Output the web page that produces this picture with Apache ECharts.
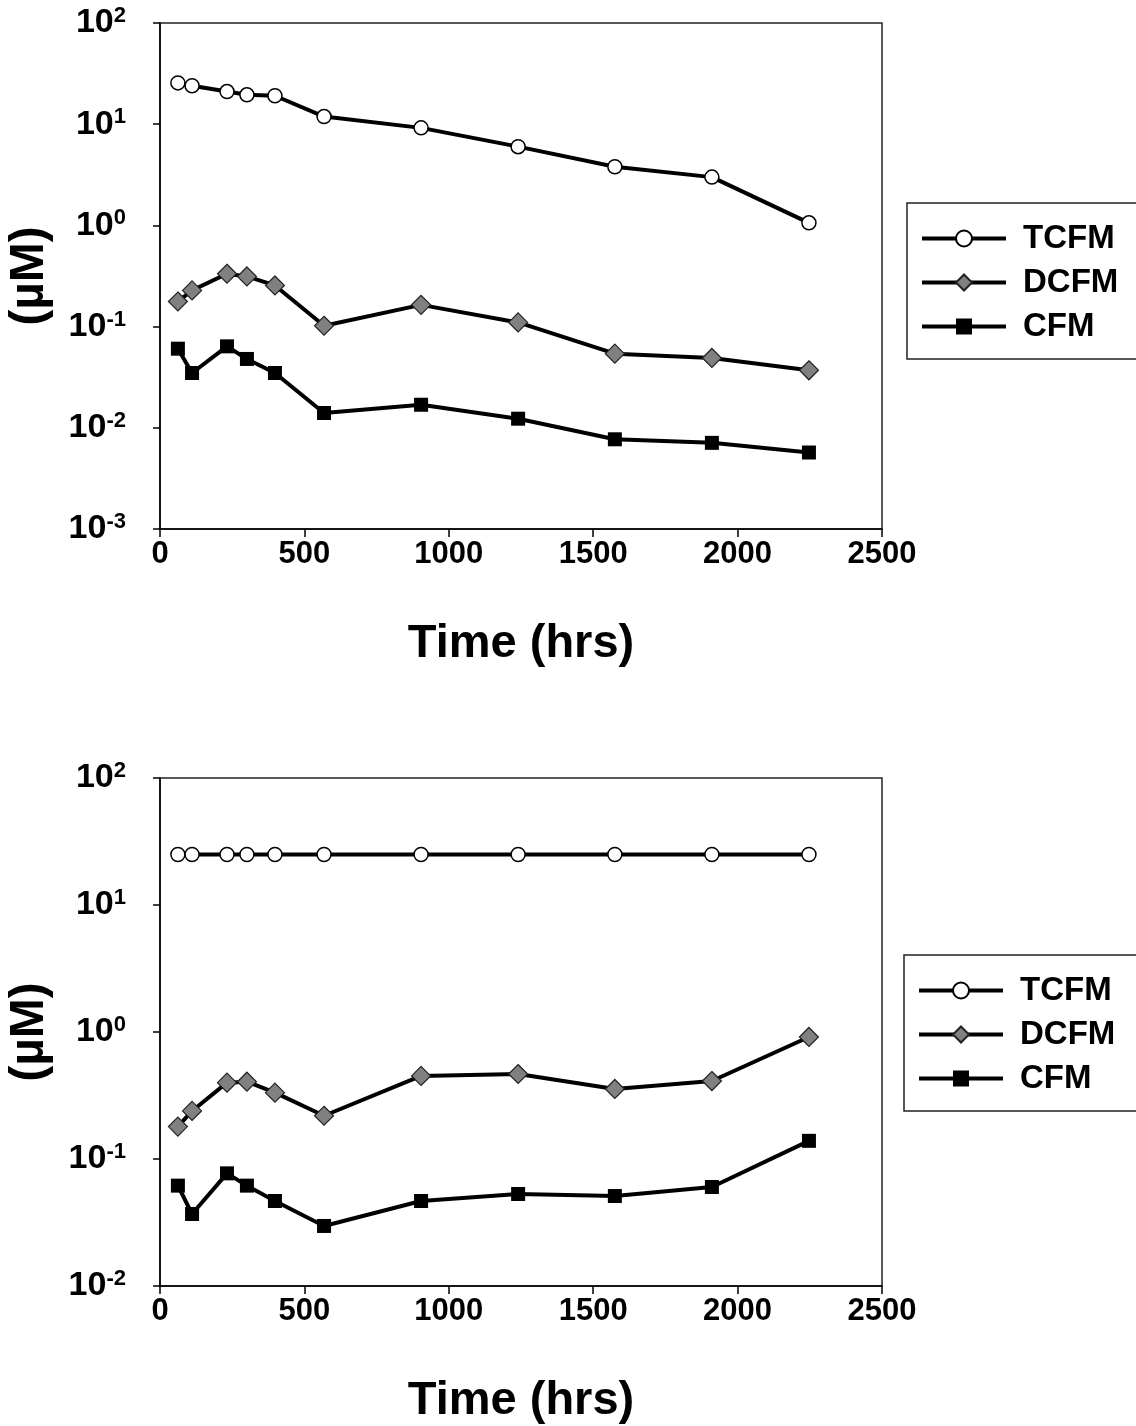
<!DOCTYPE html>
<html>
<head>
<meta charset="utf-8">
<script src="https://cdn.jsdelivr.net/npm/echarts@6/dist/echarts.min.js"></script>
<style>
  html, body { margin: 0; padding: 0; background: #fff; }
  #chart { width: 1136px; height: 1426px; }
</style>
</head>
<body>
<div id="chart"></div>
<script>
// sampling times (hrs), same for both panels
var timeHrs = [62, 111, 232, 301, 398, 568, 904, 1240, 1575, 1911, 2247]

// top panel (µM)
var tcfmTop = [25.6, 24.0, 21.0, 19.5, 19.1, 11.9, 9.2, 6.0, 3.8, 3.0, 1.06]
var dcfmTop = [0.177, 0.228, 0.333, 0.313, 0.255, 0.102, 0.164, 0.110, 0.054, 0.049, 0.037]
var cfmTop = [0.0605, 0.0348, 0.0638, 0.0479, 0.0348, 0.0140, 0.0169, 0.0123, 0.0077, 0.0071, 0.0057]

// bottom panel (µM)
var tcfmBottom = [25, 25, 25, 25, 25, 25, 25, 25, 25, 25, 25]
var dcfmBottom = [0.180, 0.239, 0.399, 0.406, 0.333, 0.219, 0.451, 0.467, 0.356, 0.411, 0.914]
var cfmBottom = [0.0617, 0.0369, 0.0771, 0.0617, 0.0467, 0.0297, 0.0467, 0.053, 0.0511, 0.0602, 0.139]

var seriesNames = ['TCFM', 'DCFM', 'CFM']
var xTicks = [0, 500, 1000, 1500, 2000, 2500]

var font = '"Liberation Sans", Arial, sans-serif'

// pair times with values
function pairs(vals) {
  var out = []
  for (var i = 0; i < timeHrs.length; i++) {
    out.push([timeHrs[i], vals[i]])
  }
  return out
}

// marker look per series
var markerStyle = {
  TCFM: { symbol: 'circle', symbolSize: 14, itemStyle: { color: '#fff', borderColor: '#000', borderWidth: 1.5 } },
  DCFM: { symbol: 'diamond', symbolSize: 19, itemStyle: { color: '#808080', borderColor: '#222', borderWidth: 1.2 } },
  CFM: { symbol: 'rect', symbolSize: 14, itemStyle: { color: '#000', borderColor: '#000', borderWidth: 0 } }
}

function makeSeries(name, vals, idx) {
  var m = markerStyle[name]
  return {
    name: name,
    type: 'line',
    xAxisIndex: idx,
    yAxisIndex: idx,
    data: pairs(vals),
    symbol: m.symbol,
    symbolSize: m.symbolSize,
    itemStyle: m.itemStyle,
    lineStyle: { color: '#000', width: 4 },
    animation: false,
    z: name == 'TCFM' ? 3 : 2
  }
}

function xAxis(idx) {
  return {
    type: 'value',
    gridIndex: idx,
    min: xTicks[0],
    max: xTicks[xTicks.length - 1],
    interval: 500,
    name: 'Time (hrs)',
    nameLocation: 'middle',
    nameGap: 92,
    nameTextStyle: { fontFamily: font, fontWeight: 'bold', fontSize: 47, color: '#000' },
    axisLine: { lineStyle: { color: '#000', width: 1.5 } },
    axisTick: { inside: false, length: 8, lineStyle: { color: '#000', width: 1.5 } },
    axisLabel: {
      margin: 10,
      fontFamily: font,
      fontWeight: 'bold',
      fontSize: 31,
      color: '#000',
      formatter: function(v) { return String(v) }
    },
    splitLine: { show: false }
  }
}

function yAxis(idx, minVal) {
  return {
    type: 'log',
    logBase: 10,
    gridIndex: idx,
    min: minVal,
    max: 100,
    interval: 1,
    name: '(µM)',
    nameLocation: 'middle',
    nameRotate: 90,
    nameGap: 106,
    nameTextStyle: { fontFamily: font, fontWeight: 'bold', fontSize: 48, color: '#000' },
    axisLine: { show: true, lineStyle: { color: '#000', width: 1.5 } },
    axisTick: { inside: false, length: 7, lineStyle: { color: '#000', width: 1.5 } },
    axisLabel: {
      margin: 34,
      showMinLabel: true,
      showMaxLabel: true,
      formatter: function(v) {
        var e = Math.round(Math.log(v) / Math.LN10)
        return '{b|10}{s|' + e + '}'
      },
      rich: {
        b: { fontFamily: font, fontWeight: 'bold', fontSize: 34, color: '#000', lineHeight: 36 },
        s: { fontFamily: font, fontWeight: 'bold', fontSize: 22, color: '#000', verticalAlign: 'top', lineHeight: 22 }
      }
    },
    splitLine: { show: false },
    minorTick: { show: false }
  }
}

function legend(idx, left, top) {
  return {
    orient: 'vertical',
    left: left,
    top: top,
    data: seriesNames,
    itemWidth: 84,
    itemHeight: 20,
    itemGap: 11,
    padding: [19, 60, 16, 13],
    borderColor: '#222',
    borderWidth: 1.5,
    backgroundColor: '#fff',
    selectedMode: false,
    lineStyle: { color: '#000', width: 4 },
    textStyle: {
      fontFamily: font,
      fontWeight: 'bold',
      fontSize: 33,
      color: '#000',
      padding: [0, 0, 0, 12]
    }
  }
}

var chart = echarts.init(document.getElementById('chart'), null, { renderer: 'canvas' })

var option = {
  backgroundColor: '#fff',
  animation: false,
  grid: [
    { left: 160, top: 23, width: 722, height: 506, show: true, borderColor: '#222', borderWidth: 1.5, backgroundColor: 'transparent', containLabel: false, outerBoundsMode: 'none' },
    { left: 160, top: 778, width: 722, height: 508, show: true, borderColor: '#222', borderWidth: 1.5, backgroundColor: 'transparent', containLabel: false, outerBoundsMode: 'none' }
  ],
  legend: [legend(0, 907, 203), legend(1, 904, 955)],
  xAxis: [xAxis(0), xAxis(1)],
  yAxis: [yAxis(0, 0.001), yAxis(1, 0.01)],
  series: [
    makeSeries('TCFM', tcfmTop, 0),
    makeSeries('DCFM', dcfmTop, 0),
    makeSeries('CFM', cfmTop, 0),
    makeSeries('TCFM', tcfmBottom, 1),
    makeSeries('DCFM', dcfmBottom, 1),
    makeSeries('CFM', cfmBottom, 1)
  ]
}

chart.setOption(option)
</script>
</body>
</html>
